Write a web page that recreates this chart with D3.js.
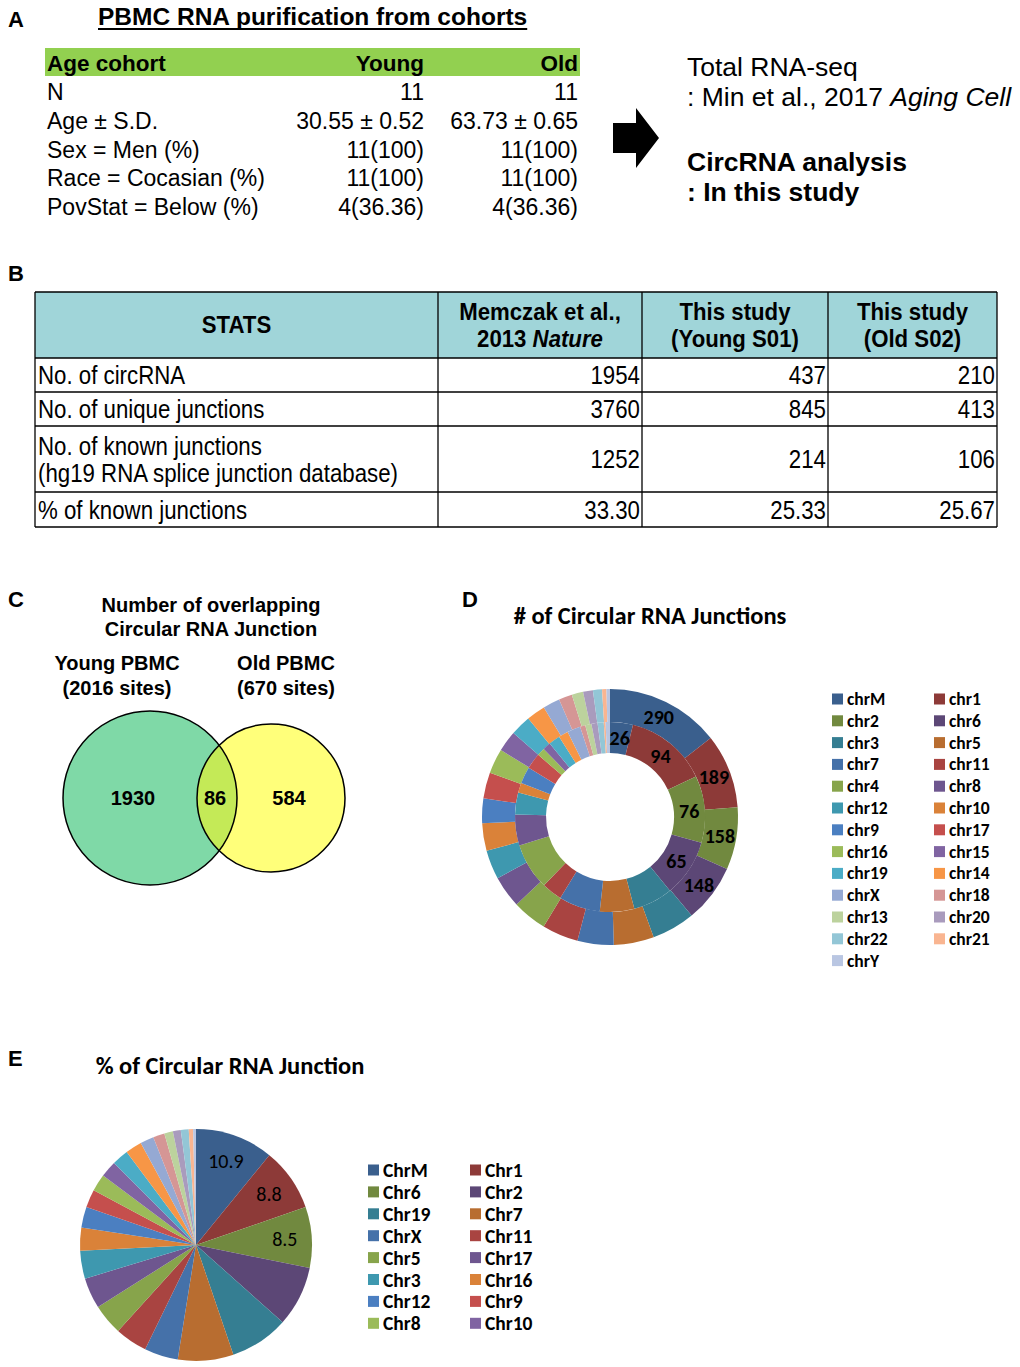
<!DOCTYPE html>
<html>
<head>
<meta charset="utf-8">
<script src="https://cdn.jsdelivr.net/npm/d3@7"></script>
<style>
  body { margin: 0; background: #fff; }
  text { fill: #000; }
</style>
</head>
<body>
<script>
// ---- panel A : cohort table
var cohortHeader = ['Age cohort', 'Young', 'Old'];
var cohortRows = [
  ['N', '11', '11'],
  ['Age \u00b1 S.D.', '30.55 \u00b1 0.52', '63.73 \u00b1 0.65'],
  ['Sex = Men (%)', '11(100)', '11(100)'],
  ['Race = Cocasian (%)', '11(100)', '11(100)'],
  ['PovStat = Below (%)', '4(36.36)', '4(36.36)']
];

// ---- panel B : stats table
var statsHeader = [['STATS'], ['Memczak et al.,', '2013 |Nature'], ['This study', '(Young S01)'], ['This study', '(Old S02)']];
var statsLabels = [['No. of circRNA'], ['No. of unique junctions'], ['No. of known junctions', '(hg19 RNA splice junction database)'], ['% of known junctions']];
var statsMemczak = ['1954', '3760', '1252', '33.30'];
var statsYoung = ['437', '845', '214', '25.33'];
var statsOld = ['210', '413', '106', '25.67'];

// ---- panel C : venn
var vennNames = ['Young PBMC', 'Old PBMC'];
var vennTotals = [2016, 670];
var vennOnly = [1930, 584];
var vennShared = 86;

// ---- panel D : donut, outer = young, inner = old
var chrD = ['chrM', 'chr1', 'chr2', 'chr6', 'chr3', 'chr5', 'chr7', 'chr11', 'chr4', 'chr8', 'chr12', 'chr10', 'chr9',
  'chr17', 'chr16', 'chr15', 'chr19', 'chr14', 'chrX', 'chr18', 'chr13', 'chr20', 'chr22', 'chr21', 'chrY'];
var youngCounts = [290, 189, 158, 148, 110, 102, 92, 92, 88, 81, 74, 70, 63, 66, 63, 53, 52, 48, 43, 34, 29, 25, 23, 11, 9];
var oldCounts = [26, 94, 76, 65, 45, 39, 47, 23, 53, 35, 25, 11, 19, 18, 9, 9, 13, 11, 15, 6, 7, 7, 7, 2, 5];
var labelledD = 4;

// ---- panel E : pie of percentages
var chrE = ['ChrM', 'Chr1', 'Chr6', 'Chr2', 'Chr19', 'Chr7', 'ChrX', 'Chr11', 'Chr5', 'Chr17', 'Chr3', 'Chr16', 'Chr12',
  'Chr9', 'Chr8', 'Chr10', 'Chr4', 'Chr15', 'Chr14', 'Chr18', 'Chr13', 'Chr20', 'Chr22', 'Chr21', 'ChrY'];
var pctE = [10.9, 8.8, 8.5, 8.4, 8.2, 7.75, 4.7, 4.5, 4.3, 4.3, 3.9, 3.2, 2.9, 2.5, 2.4, 2.3, 2.3, 2.3, 1.9, 1.6, 1.2, 1.1, 1.1, 0.6, 0.4];
var labelledE = 3;
var legendCountE = 16;

// excel style palette, one per slice
var sliceColors = ['#3a5f8d', '#8d3a38', '#71893f', '#5c4776', '#357e92', '#b86d30', '#4571a9', '#a94441', '#87a44b',
  '#6e568f', '#3e98af', '#da8239', '#4b7fc1', '#c54f4d', '#9bbb59', '#8064a2', '#4bacc6', '#f79646', '#95a9d3',
  '#d59695', '#bcd29d', '#a99bbd', '#93c6d6', '#f9b591', '#b9c6e2'];

var ARIAL = '"Liberation Sans", Arial, sans-serif';
var CALIBRI = 'Carlito, Calibri, Lato, sans-serif';

var svg = d3.select('body').append('svg')
  .attr('width', 1020).attr('height', 1367)
  .style('font-family', ARIAL);

function label(x, y, s) {
  svg.append('text').attr('x', x).attr('y', y)
    .style('font-size', '22px').style('font-weight', 'bold').text(s);
}

// squeeze text horizontally, like a narrow face
function squeeze(t, k) {
  var w = t.node().getComputedTextLength();
  t.attr('textLength', w * k).attr('lengthAdjust', 'spacingAndGlyphs');
}

// ================= A
label(8, 27, 'A');
var titleA = svg.append('text').attr('x', 98).attr('y', 25)
  .style('font-size', '24.5px').style('font-weight', 'bold')
  .text('PBMC RNA purification from cohorts');
var tw = titleA.node().getComputedTextLength();
svg.append('line').attr('x1', 98).attr('x2', 98 + tw).attr('y1', 29).attr('y2', 29)
  .attr('stroke', '#000').attr('stroke-width', 2);

var colA = [{x: 47, a: 'start'}, {x: 424, a: 'end'}, {x: 578, a: 'end'}];
var rowA = d3.scaleBand().domain(d3.range(cohortRows.length)).range([78, 221]);

svg.append('rect').attr('x', 45).attr('y', 48).attr('width', 535).attr('height', 28).attr('fill', '#92d050');
svg.append('g').selectAll('text').data(cohortHeader).join('text')
  .attr('x', (d, i) => colA[i].x).attr('y', 71)
  .attr('text-anchor', (d, i) => colA[i].a)
  .style('font-size', '22.5px').style('font-weight', 'bold')
  .text(d => d);

cohortRows.forEach(function(r, ri) {
  svg.append('g').selectAll('text').data(r).join('text')
    .attr('x', (d, i) => colA[i].x)
    .attr('y', rowA(ri) + rowA.bandwidth() / 2 + 8)
    .attr('text-anchor', (d, i) => colA[i].a)
    .style('font-size', '23px')
    .text(d => d);
});

// arrow
svg.append('path')
  .attr('d', d3.line()([[613, 123], [636, 123], [636, 108], [659, 138], [636, 168], [636, 153], [613, 153]]) + 'Z')
  .attr('fill', '#000');

var rt = svg.append('g').style('font-size', '26.5px');
rt.append('text').attr('x', 687).attr('y', 76).text('Total RNA-seq');
var t2 = rt.append('text').attr('x', 687).attr('y', 106);
t2.append('tspan').text(': Min et al., 2017 ');
t2.append('tspan').style('font-style', 'italic').text('Aging Cell');
rt.append('text').attr('x', 687).attr('y', 171).style('font-weight', 'bold').text('CircRNA analysis');
rt.append('text').attr('x', 687).attr('y', 201).style('font-weight', 'bold').text(': In this study');

// ================= B
label(8, 281, 'B');
var colB = [35, 438, 642, 828, 997];
var rowH = [66, 34, 34, 66, 35];
var rowB = [292];
rowH.forEach(h => rowB.push(rowB[rowB.length - 1] + h));

var gB = svg.append('g');
gB.append('rect').attr('x', colB[0]).attr('y', rowB[0])
  .attr('width', colB[4] - colB[0]).attr('height', rowH[0]).attr('fill', '#a0d5d9');

statsHeader.forEach(function(lines, ci) {
  var cx = (colB[ci] + colB[ci + 1]) / 2;
  var cy = rowB[0] + rowH[0] / 2;
  lines.forEach(function(ln, li) {
    var y = cy + 8 + (li - (lines.length - 1) / 2) * 27;
    var t = gB.append('text').attr('x', cx).attr('y', y).attr('text-anchor', 'middle')
      .style('font-size', '23px').style('font-weight', 'bold');
    var parts = ln.split('|');
    t.append('tspan').text(parts[0]);
    if (parts[1]) t.append('tspan').style('font-style', 'italic').text(parts[1]);
    squeeze(t, 0.965);
  });
});

var numCols = [statsMemczak, statsYoung, statsOld];
statsLabels.forEach(function(lines, ri) {
  var top = rowB[ri + 1], h = rowH[ri + 1];
  var cy = top + h / 2;
  lines.forEach(function(ln, li) {
    var t = gB.append('text').attr('x', colB[0] + 3)
      .attr('y', cy + 9 + (li - (lines.length - 1) / 2) * 27)
      .style('font-size', '25px').text(ln);
    squeeze(t, 0.89);
  });
  numCols.forEach(function(col, ci) {
    var t = gB.append('text').attr('x', colB[ci + 2] - 2).attr('y', cy + 9)
      .attr('text-anchor', 'end').style('font-size', '25px').text(col[ri]);
    squeeze(t, 0.89);
  });
});

rowB.forEach(y => gB.append('line').attr('x1', colB[0]).attr('x2', colB[4]).attr('y1', y).attr('y2', y)
  .attr('stroke', '#000').attr('stroke-width', 1.3));
colB.forEach(x => gB.append('line').attr('x1', x).attr('x2', x).attr('y1', rowB[0]).attr('y2', rowB[rowB.length - 1])
  .attr('stroke', '#000').attr('stroke-width', 1.3));

// ================= C
label(8, 607, 'C');
var gC = svg.append('g').style('font-weight', 'bold').style('font-size', '20px');
gC.append('text').attr('x', 211).attr('y', 612).attr('text-anchor', 'middle').text('Number of overlapping');
gC.append('text').attr('x', 211).attr('y', 636).attr('text-anchor', 'middle').text('Circular RNA Junction');

var rScale = d3.scaleLinear().domain([670, 2016]).range([74, 87]);
var vennX = [150, 271];
var vennFill = ['#7fd9a7', '#ffff7a'];
var titleX = [117, 286];
vennNames.forEach(function(n, i) {
  gC.append('text').attr('x', titleX[i]).attr('y', 670).attr('text-anchor', 'middle').text(n);
  gC.append('text').attr('x', titleX[i]).attr('y', 695).attr('text-anchor', 'middle').text('(' + vennTotals[i] + ' sites)');
});

var defs = svg.append('defs');
defs.append('clipPath').attr('id', 'youngClip').append('circle')
  .attr('cx', vennX[0]).attr('cy', 798).attr('r', rScale(vennTotals[0]));

vennTotals.forEach(function(v, i) {
  gC.append('circle').attr('cx', vennX[i]).attr('cy', 798).attr('r', rScale(v)).attr('fill', vennFill[i]);
});
gC.append('circle').attr('cx', vennX[1]).attr('cy', 798).attr('r', rScale(vennTotals[1]))
  .attr('fill', '#c4ea57').attr('clip-path', 'url(#youngClip)');
vennTotals.forEach(function(v, i) {
  gC.append('circle').attr('cx', vennX[i]).attr('cy', 798).attr('r', rScale(v))
    .attr('fill', 'none').attr('stroke', '#000').attr('stroke-width', 1.5);
});
gC.append('text').attr('x', 133).attr('y', 805).attr('text-anchor', 'middle').text(vennOnly[0]);
gC.append('text').attr('x', 215).attr('y', 805).attr('text-anchor', 'middle').text(vennShared);
gC.append('text').attr('x', 289).attr('y', 805).attr('text-anchor', 'middle').text(vennOnly[1]);

// ================= D
svg.append('text').attr('x', 462).attr('y', 607).style('font-size', '22px').style('font-weight', 'bold').text('D');
svg.append('text').attr('x', 650).attr('y', 624).attr('text-anchor', 'middle')
  .style('font-family', CALIBRI).style('font-size', '24.5px').style('font-weight', 'bold')
  .text('# of Circular RNA Junctions');

var pie = d3.pie().sort(null).value(d => d.v);
var dC = [610, 817];
var gD = svg.append('g').attr('transform', 'translate(' + dC + ')');
var rings = [
  {vals: youngCounts, r0: 95, r1: 128},
  {vals: oldCounts, r0: 64, r1: 95}
];
rings.forEach(function(ring) {
  var arcs = pie(ring.vals.map((v, i) => ({v: v, i: i})));
  var arc = d3.arc().innerRadius(ring.r0).outerRadius(ring.r1);
  gD.append('g').selectAll('path').data(arcs).join('path')
    .attr('d', arc).attr('fill', d => sliceColors[d.data.i]);
  gD.append('g').selectAll('text').data(arcs.slice(0, labelledD)).join('text')
    .attr('transform', d => 'translate(' + arc.centroid(d) + ')')
    .attr('text-anchor', 'middle').attr('dy', '0.36em')
    .style('font-family', CALIBRI).style('font-size', '20px').style('font-weight', 'bold')
    .text(d => d.data.v);
});

var legD = svg.append('g').style('font-family', CALIBRI).style('font-size', '17.5px').style('font-weight', 'bold');
var legDRow = d3.scaleLinear().domain([0, 1]).range([699, 720.8]);
chrD.forEach(function(n, i) {
  var x = i % 2 ? 934 : 832, y = legDRow(Math.floor(i / 2));
  legD.append('rect').attr('x', x).attr('y', y - 5.5).attr('width', 11).attr('height', 11).attr('fill', sliceColors[i]);
  legD.append('text').attr('x', x + 15).attr('y', y + 6).text(n);
});

// ================= E
label(8, 1066, 'E');
svg.append('text').attr('x', 230).attr('y', 1074).attr('text-anchor', 'middle')
  .style('font-family', CALIBRI).style('font-size', '24.5px').style('font-weight', 'bold')
  .text('% of Circular RNA Junction');

var gE = svg.append('g').attr('transform', 'translate(196,1245)');
var arcsE = pie(pctE.map((v, i) => ({v: v, i: i})));
var arcE = d3.arc().innerRadius(0).outerRadius(116);
var arcLab = d3.arc().innerRadius(89).outerRadius(89);
gE.append('g').selectAll('path').data(arcsE).join('path')
  .attr('d', arcE).attr('fill', d => sliceColors[d.data.i]);
gE.append('g').selectAll('text').data(arcsE.slice(0, labelledE)).join('text')
  .attr('transform', d => 'translate(' + arcLab.centroid(d) + ')')
  .attr('text-anchor', 'middle').attr('dy', '0.36em')
  .style('font-family', CALIBRI).style('font-size', '20px')
  .text(d => d.data.v);

var legE = svg.append('g').style('font-family', CALIBRI).style('font-size', '19.5px').style('font-weight', 'bold');
var legERow = d3.scaleLinear().domain([0, 1]).range([1170, 1191.9]);
chrE.slice(0, legendCountE).forEach(function(n, i) {
  var x = i % 2 ? 470 : 368, y = legERow(Math.floor(i / 2));
  legE.append('rect').attr('x', x).attr('y', y - 5.5).attr('width', 11).attr('height', 11).attr('fill', sliceColors[i]);
  legE.append('text').attr('x', x + 15).attr('y', y + 7).text(n);
});
</script>
</body>
</html>
